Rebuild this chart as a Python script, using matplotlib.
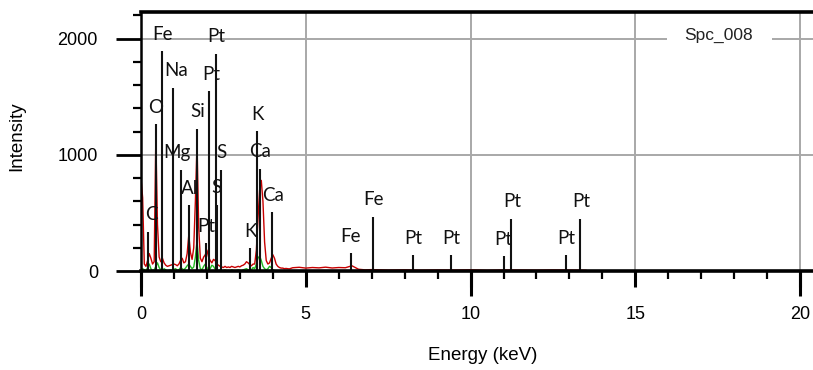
import numpy as np
import matplotlib
matplotlib.use("Agg")
import matplotlib.pyplot as plt
from matplotlib.ticker import FixedLocator

# ---------------- data ----------------
energy_lo = np.round(np.arange(0.0, 4.5001, 0.05), 2)   # keV sampling grid
red_lo = [800, 630, 60, 40, 90, 150, 110, 60, 80, 1150,
          400, 120, 80, 110, 70, 50, 40, 45, 50, 55,
          60, 55, 45, 60, 90, 110, 70, 80, 150, 310,
          160, 100, 200, 600, 1100, 380, 110, 80, 120, 140,
          180, 120, 90, 70, 100, 90, 60, 50, 40, 35,
          30, 40, 30, 35, 30, 40, 35, 30, 35, 40,
          35, 45, 50, 60, 80, 70, 55, 45, 60, 60,
          180, 450, 700, 780, 600, 250, 90, 60, 70, 110,
          140, 110, 60, 40, 30, 25, 25, 20, 22, 20,
          18]
green_lo = [0, 20, 10, 0, 30, 60, 20, 0, 10, 40,
            70, 30, 10, 0, 20, 10, 0, 5, 10, 0,
            15, 20, 5, 10, 30, 20, 10, 25, 45, 60,
            40, 20, 35, 120, 260, 90, 20, 10, 40, 60,
            30, 10, 20, 50, 40, 15, 10, 5, 10, 0,
            5, 10, 0, 5, 0, 10, 5, 0, 5, 10,
            5, 0, 10, 15, 20, 10, 5, 10, 30, 20,
            60, 110, 130, 90, 40, 20, 10, 20, 40, 30,
            10, 5, 0, 0, 0, 0, 0, 0, 0, 0,
            0]
energy_tail = [4.6, 4.8, 5.0, 5.2, 5.4, 5.6, 5.8, 6.0, 6.2, 6.4, 6.6, 6.8, 7.0,
               7.5, 8.0, 8.5, 9.0, 9.5, 10.0, 10.5, 11.0, 11.5, 12.0, 12.5, 13.0, 13.5]
red_tail = [28, 32, 25, 30, 27, 33, 26, 30, 28, 45, 15, 10, 12,
            8, 10, 7, 9, 8, 10, 6, 9, 8, 7, 9, 8, 6]

marker_keV = [0.20, 0.455, 0.647, 0.98, 1.214, 1.457, 1.71, 1.97, 2.064, 2.276,
              2.30, 2.428, 3.31, 3.53, 3.60, 3.97, 6.37, 7.05, 8.25, 9.40,
              11.02, 11.22, 12.90, 13.32]
marker_height = [337, 1262, 1891, 1577, 873, 567, 1225, 240, 1548, 1869,
                 570, 873, 195, 1202, 880, 504, 152, 466, 137, 137,
                 129, 452, 137, 452]
marker_label = ['C', 'O', 'Fe', 'Na', 'Mg', 'Al', 'Si', 'Pt', 'Pt', 'Pt',
                'S', 'S', 'K', 'K', 'Ca', 'Ca', 'Fe', 'Fe', 'Pt', 'Pt',
                'Pt', 'Pt', 'Pt', 'Pt']
label_dx = [4, 0, 0, 3, -4, 1, 0, 0, 2, 0,
            0, 0, 0, 0, 0, 1, 0, 0, 0, 0,
            -1, 1, 0, 1]

x_ticks = [0, 5, 10, 15, 20]
y_ticks = [0, 1000, 2000]
spectrum_name = "Spc_008"

# ---------------- figure ----------------
fig = plt.figure(figsize=(8.13, 3.70), dpi=100)
ax = fig.add_axes([141/813, 99/370, 672/813, 259/370])
ax.set_xlim(0, 20.39)
ax.set_ylim(0, 2230)

grid_c = '#a8a8a8'
for gx in [5, 10, 15, 20]:
    ax.axvline(gx, color=grid_c, lw=1.4, zorder=0.5)
for gy in [1000, 2000]:
    ax.axhline(gy, color=grid_c, lw=1.4, zorder=0.5)

# spectra
energy_all = np.concatenate([energy_lo, energy_tail])
red_all = np.concatenate([red_lo, red_tail])
ax.plot(energy_all, red_all, color='#c80000', lw=1.0, zorder=2)
ax.plot(energy_lo, green_lo, color='#22bb22', lw=1.0, zorder=2.2)

# element marker lines
ax.vlines(marker_keV, 0, marker_height, color='#111111', lw=1.5, zorder=2.4)
for e, h, lab, dx in zip(marker_keV, marker_height, marker_label, label_dx):
    ax.annotate(lab, (e, h), xytext=(dx, 17), textcoords='offset pixels',
                ha='center', va='center', fontsize=13.5, family='Lato',
                color='#111111', zorder=3)

# spectrum name with white gap in grid line
ax.text(17.51, 2026, spectrum_name, ha='center', va='center', fontsize=12.5,
        family='Liberation Sans', color='#222222', zorder=3,
        bbox=dict(boxstyle='square,pad=0.15', fc='white', ec='none'))
ax.add_patch(plt.Rectangle((15.95, 1960), 3.2, 120, fc='white', ec='none', zorder=1))

# spines
ax.spines['right'].set_visible(False)
ax.spines['top'].set_linewidth(2.6)
ax.spines['bottom'].set_linewidth(2.6)
ax.spines['left'].set_linewidth(1.8)

# ticks
ax.xaxis.set_major_locator(FixedLocator(x_ticks))
ax.xaxis.set_minor_locator(FixedLocator([v for v in range(0, 21) if v % 5]))
ax.yaxis.set_major_locator(FixedLocator(y_ticks))
ax.yaxis.set_minor_locator(FixedLocator([v for v in range(200, 2201, 200) if v % 1000]))
ax.tick_params(axis='x', which='major', direction='out', length=11.5, width=2.2,
               pad=14, labelsize=13)
ax.tick_params(axis='x', which='minor', direction='out', length=5.8, width=1.6)
ax.tick_params(axis='y', which='major', direction='out', length=18, width=2.0,
               pad=13, labelsize=13)
ax.tick_params(axis='y', which='minor', direction='out', length=5.8, width=1.6)
for lab in ax.get_xticklabels() + ax.get_yticklabels():
    lab.set_family('Liberation Sans')

sec = ax.secondary_xaxis('bottom')
sec.set_xticks([0, 10, 20])
sec.tick_params(axis='x', which='major', direction='out', length=18, width=2.2,
                labelbottom=False)
sec.xaxis.set_minor_locator(FixedLocator([]))
sec.spines['bottom'].set_visible(False)

ax.set_xlabel('Energy (keV)', fontsize=13.5, family='Liberation Sans')
ax.set_ylabel('Intensity', fontsize=13.5, family='Liberation Sans')
ax.xaxis.set_label_coords(0.508, -0.292)
ax.yaxis.set_label_coords(-0.172, 0.52)

fig.savefig('out.png', dpi=100)
